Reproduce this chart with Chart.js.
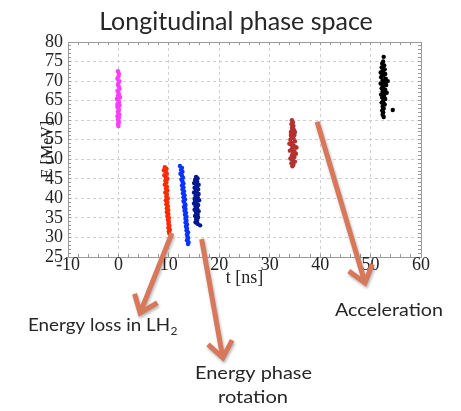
<!DOCTYPE html>
<html>
<head>
<meta charset="utf-8">
<script src="https://cdn.jsdelivr.net/npm/chart.js@4.4.1/dist/chart.umd.min.js"></script>
<style>
  html, body { margin: 0; padding: 0; background: #fff; }
  #wrap { width: 461px; height: 411px; }
</style>
</head>
<body>
<div id="wrap"><canvas id="chart" width="461" height="411"></canvas></div>
<script>
// bunches as [t (ns), E (MeV)]
const startBunch = [
  [-0.1,72.5],[0.1,71.8],[0.0,71.2],[-0.2,70.6],[0.2,70.0],[0.0,69.5],[-0.1,69.0],[0.1,68.5],
  [0.2,68.0],[-0.2,67.5],[0.0,67.0],[0.1,66.6],[-0.1,66.2],[0.3,65.8],[-0.3,65.4],[0.0,65.0],
  [0.1,64.6],[-0.1,64.2],[0.2,63.8],[-0.2,63.4],[0.0,63.0],[0.1,62.6],[-0.1,62.2],[0.0,61.8],
  [0.2,61.4],[-0.2,61.0],[0.1,60.6],[-0.1,60.2],[0.0,59.8],[0.1,59.4],[-0.1,59.0],[0.0,58.5],
  [0.2,66.0],[-0.2,64.0]
];
const lossBunch = [
  [9.2,48.0],[9.5,47.6],[9.0,47.2],[9.4,46.8],[9.6,46.3],[9.1,45.9],[9.4,45.4],[9.7,45.0],
  [9.3,44.5],[9.5,44.0],[9.2,43.5],[9.6,43.0],[9.4,42.5],[9.7,42.0],[9.3,41.5],[9.6,41.0],
  [9.5,40.5],[9.8,40.0],[9.4,39.5],[9.7,39.0],[9.5,38.5],[9.8,38.0],[9.6,37.5],[9.9,37.0],
  [9.6,36.5],[9.9,36.0],[9.7,35.5],[10.0,35.0],[9.8,34.5],[10.0,34.0],[9.9,33.5],[10.1,33.0],
  [9.9,32.5],[10.2,32.0],[10.0,31.5],[10.1,31.0]
];
const driftBunch = [
  [12.2,48.3],[12.6,47.8],[12.4,47.3],[12.7,46.8],[12.3,46.3],[12.6,45.8],[12.8,45.3],[12.5,44.8],
  [12.7,44.3],[12.9,43.8],[12.6,43.3],[12.9,42.8],[12.7,42.3],[13.0,41.8],[12.8,41.3],[13.1,40.8],
  [12.9,40.3],[13.2,39.8],[12.9,39.3],[13.1,38.8],[13.3,38.3],[13.0,37.8],[13.3,37.3],[13.1,36.8],
  [13.4,36.3],[13.2,35.8],[13.5,35.3],[13.3,34.8],[13.5,34.3],[13.3,33.8],[13.6,33.3],[13.4,32.8],
  [13.6,32.3],[13.5,31.8],[13.8,31.3],[13.6,30.8],[13.7,30.3],[13.8,29.8],[13.6,29.3],[13.9,28.8],
  [13.8,28.3]
];
const rotatedBunch = [
  [15.4,45.5],[15.7,45.1],[15.2,44.7],[15.6,44.3],[15.0,43.9],[15.9,43.5],[15.4,43.1],[15.1,42.7],
  [15.8,42.3],[15.5,41.9],[15.0,41.5],[15.9,41.1],[15.3,40.7],[15.7,40.3],[15.1,39.9],[16.0,39.5],
  [15.5,39.1],[15.0,38.7],[15.8,38.3],[15.3,37.9],[15.6,37.5],[15.1,37.1],[15.9,36.7],[15.4,36.3],
  [15.7,35.9],[15.2,35.5],[15.8,35.1],[15.4,34.7],[15.6,34.3],[15.3,33.9],[15.7,33.5],[16.2,33.1],
  [15.5,44.0],[15.4,40.0],[15.5,36.0],[15.6,38.0],[15.4,42.0],[15.3,44.9],[15.6,42.9],[15.7,40.9],
  [15.2,39.3],[15.5,37.3],[15.6,35.4],[15.5,33.8]
];
const midBunch = [
  [34.4,60.0],[34.6,59.5],[34.3,59.0],[34.7,58.5],[34.4,58.0],[34.8,57.5],[34.2,57.0],[34.6,56.6],
  [34.9,56.2],[34.3,55.8],[34.7,55.4],[34.1,55.0],[35.0,54.6],[34.5,54.2],[34.2,53.8],[34.8,53.4],
  [35.1,53.0],[34.4,52.6],[34.0,52.2],[34.7,51.8],[35.2,51.4],[34.4,51.0],[34.9,50.6],[34.1,50.2],
  [34.6,49.8],[35.0,49.4],[34.3,49.0],[34.7,48.6],[34.5,48.2],[35.3,53.0],[33.9,54.0],[35.0,57.0],
  [34.5,57.8],[34.6,55.9],[34.5,53.2],[34.6,51.4],[34.4,50.0],[34.9,52.0],[34.2,56.2]
];
const accelBunch = [
  [52.6,76.2],[52.5,75.0],[52.3,74.5],[52.7,74.0],[52.2,73.5],[52.8,73.0],[52.4,72.6],[52.0,72.2],
  [52.9,71.8],[52.5,71.4],[52.1,71.0],[53.0,70.6],[52.4,70.2],[52.8,69.8],[52.0,69.4],[53.1,69.0],
  [52.5,68.6],[52.2,68.2],[52.9,67.8],[52.4,67.4],[53.2,67.0],[52.1,66.6],[52.7,66.2],[52.3,65.8],
  [52.9,65.4],[52.5,65.0],[52.2,64.5],[52.8,64.0],[52.4,63.5],[52.6,63.0],[52.3,62.5],[52.5,62.0],
  [52.4,61.4],[52.6,60.8],[54.4,62.6],[53.4,70.0],[52.5,73.8],[52.6,72.0],[52.5,70.0],[52.6,68.0],
  [52.5,66.0],[52.6,64.2],[52.4,69.0],[52.7,67.2],[52.3,71.6]
];

const xTicks = [-10, 0, 10, 20, 30, 40, 50, 60];
const yTicks = [25, 30, 35, 40, 45, 50, 55, 60, 65, 70, 75, 80];

// annotation arrows, ends given in axis units
const arrows = [
  { from: [10.6, 31.1], to: [4.3, 10.7] },
  { from: [16.5, 29.6], to: [20.7, -0.8] },
  { from: [39.4, 59.6], to: [48.9, 18.4] }
];

const notes = [
  { text: 'Energy loss in LH', sub: '2', x: 28, y: 331, w: 142 },
  { text: 'Acceleration', x: 335, y: 316, w: 108 },
  { text: 'Energy phase', x: 253.5, y: 379, w: 117, center: true },
  { text: 'rotation', x: 253, y: 403, w: 70, center: true }
];

const arrowColor = '#d8785b';
const textColor = '#262626';
const serif = "'Liberation Serif', 'Times New Roman', serif";

const toXY = pts => pts.map(p => ({ x: p[0], y: p[1] }));

const bunch = (pts, color) => ({
  data: toXY(pts),
  backgroundColor: color,
  borderColor: color,
  borderWidth: 0,
  pointRadius: 2.2,
  pointHoverRadius: 2.2
});

const notesPlugin = {
  id: 'notes',
  afterDraw(chart) {
    const ctx = chart.ctx;
    const xs = chart.scales.x, ys = chart.scales.y;
    ctx.save();
    ctx.strokeStyle = arrowColor;
    ctx.lineWidth = 5;
    ctx.lineJoin = 'miter';
    ctx.shadowColor = 'rgba(0,0,0,0.3)';
    ctx.shadowBlur = 3;
    ctx.shadowOffsetX = 1;
    ctx.shadowOffsetY = 2;
    arrows.forEach(a => {
      const x1 = xs.getPixelForValue(a.from[0]), y1 = ys.getPixelForValue(a.from[1]);
      const x2 = xs.getPixelForValue(a.to[0]), y2 = ys.getPixelForValue(a.to[1]);
      const ang = Math.atan2(y2 - y1, x2 - x1);
      ctx.beginPath();
      ctx.moveTo(x1, y1);
      ctx.lineTo(x2, y2);
      ctx.moveTo(x2 - 20 * Math.cos(ang - 0.66), y2 - 20 * Math.sin(ang - 0.66));
      ctx.lineTo(x2, y2);
      ctx.lineTo(x2 - 20 * Math.cos(ang + 0.66), y2 - 20 * Math.sin(ang + 0.66));
      ctx.stroke();
    });
    ctx.restore();

    ctx.save();
    ctx.fillStyle = textColor;
    ctx.textBaseline = 'alphabetic';
    notes.forEach(n => {
      ctx.font = '17px Lato';
      const w = ctx.measureText(n.text).width;
      ctx.save();
      ctx.translate(n.center ? n.x - n.w / 2 : n.x, n.y);
      ctx.scale(n.w / w, 1);
      ctx.fillText(n.text, 0, 0);
      ctx.restore();
      if (n.sub) {
        ctx.font = '12px Lato';
        ctx.fillText(n.sub, n.x + n.w + 0.5, n.y + 4);
      }
    });
    ctx.restore();
  }
};

const gridAt = (list) => (c) => (c.tick && list.includes(c.tick.value)) ? '#cfcfcf' : 'rgba(0,0,0,0)';

new Chart(document.getElementById('chart'), {
  type: 'scatter',
  data: {
    datasets: [
      bunch(startBunch, '#ff3cff'),
      bunch(lossBunch, '#ff2a00'),
      bunch(driftBunch, '#0a32ff'),
      bunch(rotatedBunch, '#00188f'),
      bunch(midBunch, '#b3312e'),
      bunch(accelBunch, '#000000')
    ]
  },
  options: {
    responsive: false,
    animation: false,
    layout: { padding: { left: 11, right: 0, top: 0, bottom: 0 } },
    plugins: {
      legend: { display: false },
      tooltip: { enabled: false },
      title: {
        display: true,
        text: 'Longitudinal phase space',
        color: textColor,
        font: { family: 'Lato', size: 25, weight: 'normal' },
        padding: { top: 7, bottom: 0 }
      }
    },
    scales: {
      x: {
        type: 'linear',
        position: 'bottom',
        min: -10, max: 60,
        afterFit: s => { s.height = 154; },
        border: { color: '#9a9a9a', dash: [3, 3] },
        grid: {
          color: gridAt(xTicks.slice(1, -1)),
          tickLength: -3,
          tickColor: '#9a9a9a',
          tickBorderDash: []
        },
        ticks: {
          stepSize: 2,
          autoSkip: false,
          maxRotation: 0,
          padding: 0,
          color: '#222',
          font: { family: serif, size: 18 },
          callback: v => xTicks.includes(v) ? String(v) : ''
        },
        title: {
          display: true,
          text: 't [ns]',
          color: '#222',
          font: { family: serif, size: 18 },
          padding: { top: 0, bottom: 122 }
        }
      },
      y: {
        type: 'linear',
        position: 'left',
        min: 25, max: 80,
        afterFit: s => { s.width = 57; },
        border: { color: '#9a9a9a', dash: [3, 3] },
        grid: {
          color: gridAt(yTicks.slice(1, -1)),
          tickLength: -3,
          tickColor: '#9a9a9a',
          tickBorderDash: []
        },
        ticks: {
          stepSize: 1,
          autoSkip: false,
          padding: 8,
          color: '#222',
          font: { family: serif, size: 18 },
          callback: v => yTicks.includes(v) ? String(v) : ''
        },
        title: {
          display: true,
          text: 'E [MeV]',
          color: '#222',
          font: { family: serif, size: 16 },
          padding: { top: 27, bottom: 0 }
        }
      },
      x2: {
        type: 'linear',
        position: 'top',
        min: -10, max: 60,
        afterFit: s => { s.height = 5; },
        border: { color: '#9a9a9a' },
        grid: { drawOnChartArea: false, tickLength: -3, color: '#9a9a9a' },
        ticks: { stepSize: 2, autoSkip: false, display: false }
      },
      y2: {
        type: 'linear',
        position: 'right',
        min: 25, max: 80,
        afterFit: s => { s.width = 40; },
        border: { color: '#9a9a9a' },
        grid: { drawOnChartArea: false, tickLength: -3, color: '#9a9a9a' },
        ticks: { stepSize: 1, autoSkip: false, display: false }
      }
    }
  },
  plugins: [notesPlugin]
});
</script>
</body>
</html>
